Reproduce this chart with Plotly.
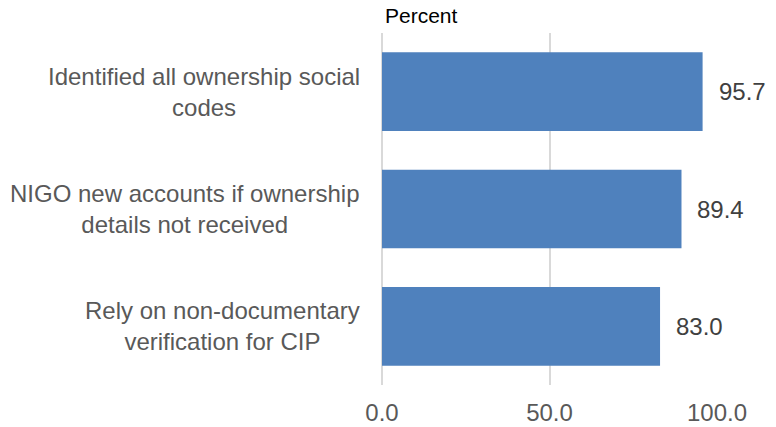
import plotly.graph_objects as go

categories = ["Identified all ownership social<br>codes",
              "NIGO new accounts if ownership<br>details not received",
              "Rely on non-documentary<br>verification for CIP"]
values = [95.7, 89.4, 83.0]
tick_vals = [0, 50, 100]
tick_text = ["0.0", "50.0", "100.0"]

FONT = "Liberation Sans, Arial, sans-serif"
fig = go.Figure()
fig.add_trace(go.Bar(
    x=values, y=categories, orientation="h",
    marker=dict(color="#4F81BD", line=dict(width=0)),
    width=0.67, hoverinfo="skip"))

annotations = []
for c, v in zip(categories, values):
    annotations.append(dict(x=v, y=c, xref="x", yref="y", text=f"{v:.1f}",
                            showarrow=False, xanchor="left", xshift=14,
                            font=dict(family=FONT, size=24, color="#404040")))
    annotations.append(dict(x=0, y=c, xref="paper", yref="y", text=c,
                            showarrow=False, xanchor="right", xshift=-20, align="center",
                            font=dict(family=FONT, size=24, color="#595959")))
annotations.append(dict(x=0, y=1, xref="paper", yref="paper", text="Percent",
                        showarrow=False, xanchor="left", yanchor="bottom", xshift=1, yshift=4,
                        font=dict(family=FONT, size=21, color="#000000")))

fig.update_layout(
    width=776, height=427,
    margin=dict(l=382, r=59, t=33, b=42),
    paper_bgcolor="white", plot_bgcolor="white",
    showlegend=False,
    annotations=annotations,
    xaxis=dict(range=[0, 100], tickvals=tick_vals, ticktext=tick_text,
               showgrid=True, gridcolor="#D9D9D9", gridwidth=2,
               zeroline=True, zerolinecolor="#D9D9D9", zerolinewidth=2,
               ticks="outside", ticklen=6, tickcolor="rgba(0,0,0,0)",
               tickfont=dict(family=FONT, size=24, color="#595959"),
               showline=False, fixedrange=True, automargin=False),
    yaxis=dict(range=[2.5, -0.5], showticklabels=False, showgrid=False,
               zeroline=False, showline=False, fixedrange=True, automargin=False),
)
fig.write_html("out.html", config={"displayModeBar": False},
               post_script="document.body.style.margin='0px';")
